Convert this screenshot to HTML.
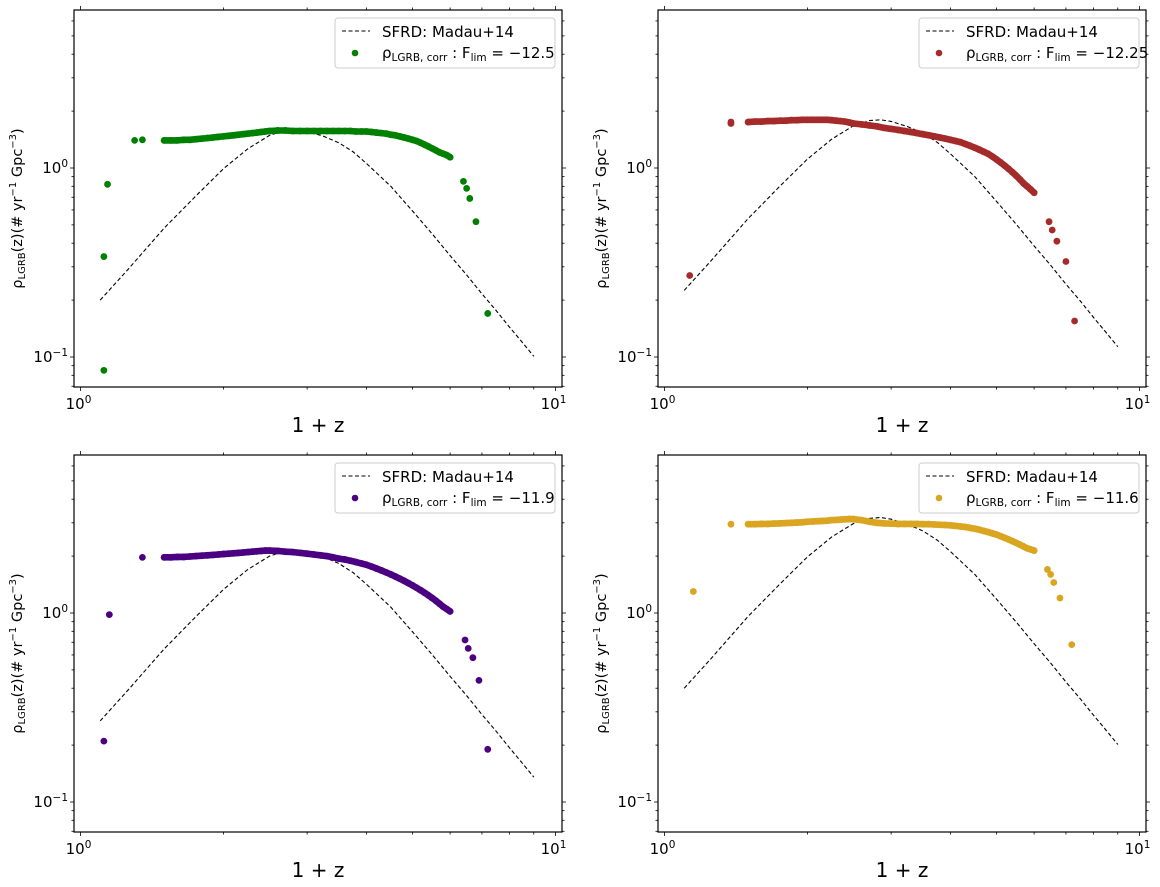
<!DOCTYPE html>
<html><head><meta charset="utf-8"><style>
html,body{margin:0;padding:0;background:#fff;}
svg{display:block;font-family:"DejaVu Sans","Liberation Sans",sans-serif;}
</style></head><body>
<svg id="fig" width="1160" height="887" viewBox="0 0 1160 887" xmlns="http://www.w3.org/2000/svg"></svg>
<script>
// ---- data ----
const sfrdX = [1.1,1.25,1.5,1.75,2.0,2.25,2.5,2.7,2.85,3.0,3.25,3.5,3.75,4.0,4.5,5.0,5.5,6.0,6.5,7.0,7.5,8.0,8.5,9.0];
const sfrdShape = [0.125,0.178,0.30,0.445,0.62,0.79,0.93,0.99,1.0,0.98,0.92,0.85,0.76,0.66,0.50,0.37,0.28,0.215,0.17,0.135,0.11,0.09,0.075,0.063];
const sfrdPeaks = [1.6,1.8,2.15,3.2];
const denseX = [1.50,1.55,1.60,1.65,1.70,1.75,1.80,1.85,1.90,1.95,2.00,2.05,2.10,2.15,2.20,2.25,2.30,2.35,2.40,2.45,2.50,
 2.6,2.7,2.8,2.9,3.0,3.1,3.2,3.3,3.4,3.5,3.6,3.7,3.8,3.9,4.0,4.1,4.2,4.3,4.4,4.5,4.6,4.7,4.8,4.9,5.0,5.1,5.2,5.3,5.4,5.5,5.6,5.7,5.8,5.9,6.0];
const yTL = [1.40,1.40,1.40,1.41,1.41,1.42,1.43,1.44,1.45,1.46,1.47,1.48,1.49,1.50,1.51,1.52,1.53,1.54,1.55,1.56,1.57,
 1.58,1.58,1.57,1.57,1.57,1.57,1.57,1.57,1.57,1.57,1.57,1.57,1.56,1.56,1.56,1.55,1.54,1.53,1.52,1.50,1.49,1.47,1.45,1.43,1.41,1.39,1.36,1.33,1.30,1.27,1.24,1.21,1.19,1.17,1.14];
const yTR = [1.75,1.76,1.76,1.77,1.77,1.78,1.78,1.79,1.79,1.80,1.80,1.80,1.80,1.80,1.80,1.79,1.78,1.77,1.76,1.74,1.72,
 1.70,1.68,1.66,1.63,1.61,1.59,1.57,1.55,1.53,1.51,1.49,1.47,1.45,1.43,1.41,1.39,1.37,1.34,1.31,1.28,1.25,1.22,1.19,1.15,1.11,1.07,1.03,0.99,0.95,0.91,0.87,0.83,0.80,0.77,0.74];
const yBL = [1.97,1.97,1.98,1.98,1.99,2.00,2.01,2.02,2.03,2.04,2.05,2.06,2.07,2.08,2.09,2.10,2.11,2.12,2.13,2.14,2.14,
 2.13,2.11,2.10,2.08,2.06,2.04,2.02,2.00,1.97,1.94,1.92,1.89,1.86,1.83,1.80,1.76,1.72,1.68,1.64,1.60,1.56,1.52,1.48,1.44,1.40,1.36,1.32,1.28,1.24,1.20,1.16,1.12,1.08,1.05,1.02];
const yBR = [2.95,2.95,2.96,2.96,2.97,2.98,2.99,3.00,3.01,3.02,3.04,3.05,3.06,3.07,3.08,3.10,3.11,3.12,3.13,3.14,3.14,
 3.10,3.04,3.00,2.98,2.97,2.96,2.96,2.96,2.96,2.95,2.95,2.94,2.93,2.92,2.91,2.89,2.87,2.85,2.82,2.79,2.76,2.72,2.68,2.64,2.60,2.55,2.50,2.45,2.40,2.35,2.30,2.25,2.20,2.17,2.14];
const outTLx = [1.12,1.12,1.14,1.30,1.35,6.4,6.5,6.6,6.8,7.2];
const outTLy = [0.085,0.34,0.82,1.40,1.41,0.85,0.78,0.69,0.52,0.17];
const outTRx = [1.13,1.38,1.38,6.45,6.55,6.7,7.0,7.3];
const outTRy = [0.27,1.75,1.72,0.52,0.47,0.41,0.32,0.155];
const outBLx = [1.12,1.15,1.35,6.45,6.55,6.7,6.9,7.2];
const outBLy = [0.21,0.98,1.97,0.72,0.65,0.58,0.44,0.19];
const outBRx = [1.15,1.38,6.4,6.5,6.6,6.8,7.2];
const outBRy = [1.3,2.95,1.7,1.6,1.45,1.2,0.68];
const flimLabels = ["\u221212.5","\u221212.25","\u221211.9","\u221211.6"];
const colors = ["#008000","#a52a2a","#4b0082","#daa520"];

const NS="http://www.w3.org/2000/svg";
const svg=document.getElementById('fig');
function mk(tag,attrs,parent){const e=document.createElementNS(NS,tag);for(const k in attrs)e.setAttribute(k,attrs[k]);(parent||svg).appendChild(e);return e;}

const panels=[
 {x:74,y:10,dense:yTL,ox:outTLx,oy:outTLy},
 {x:658,y:10,dense:yTR,ox:outTRx,oy:outTRy},
 {x:74,y:455,dense:yBL,ox:outBLx,oy:outBLy},
 {x:658,y:455,dense:yBR,ox:outBRx,oy:outBRy}];
const W=488,H=377;

panels.forEach((p,i)=>{
 const g=mk('g',{});
 
 
 const X=v=>p.x+6.5+475*Math.log10(v);
 const Y=v=>p.y+158-189*Math.log10(v);
 const fr=mk('rect',{x:p.x,y:p.y,width:W,height:H,fill:'none',stroke:'#000','stroke-width':1.2},g);
 
 
 for(let d=0;d<=1;d++){for(let m=1;m<=9;m++){const v=m*Math.pow(10,d);if(v>10)break;const xx=X(v);if(xx<p.x||xx>p.x+W)continue;
  const L=(m===1)?4:2.5;
  mk('line',{x1:xx,y1:p.y+H,x2:xx,y2:p.y+H+L,stroke:'#000','stroke-width':0.8},g);
  mk('line',{x1:xx,y1:p.y,x2:xx,y2:p.y-L,stroke:'#000','stroke-width':0.8},g);}}
 for(let d=-2;d<=0;d++){for(let m=1;m<=9;m++){const v=m*Math.pow(10,d);const yy=Y(v);if(yy<p.y||yy>p.y+H)continue;
  const L=(m===1)?4:2.5;
  mk('line',{x1:p.x,y1:yy,x2:p.x-L,y2:yy,stroke:'#000','stroke-width':0.8},g);
  mk('line',{x1:p.x+W,y1:yy,x2:p.x+W+L,y2:yy,stroke:'#000','stroke-width':0.8},g);}}
 [[1,'0'],[10,'1']].forEach(([v,e])=>{const t=mk('text',{x:X(v)-2,y:p.y+H+22,'font-size':15,'text-anchor':'middle'},g);
  
  t.innerHTML='10<tspan dy="-6" font-size="10.5">'+e+'</tspan>';});
 [[1,'0'],[0.1,'\u22121']].forEach(([v,e])=>{const t=mk('text',{x:p.x-6,y:Y(v)+5,'font-size':15,'text-anchor':'end'},g);
  
  t.innerHTML='10<tspan dy="-6" font-size="10.5">'+e+'</tspan>';});
 const xt=mk('text',{x:p.x+W/2,y:p.y+H+45,'font-size':20,'text-anchor':'middle'},g);
 
 xt.textContent='1 + z';
 const cy=p.y+H/2+10;
 const yt=mk('text',{x:0,y:0,'font-size':14.5,'text-anchor':'middle',transform:`translate(${p.x-52},${cy}) rotate(-90)`},g);
 
 yt.innerHTML='\u03c1<tspan dy="3" font-size="10">LGRB</tspan><tspan dy="-3">(z)(# yr</tspan><tspan dy="-6" font-size="10">\u22121</tspan><tspan dy="6"> Gpc</tspan><tspan dy="-6" font-size="10">\u22123</tspan><tspan dy="6">)</tspan>';
 const pk=sfrdPeaks[i];
 const pts=sfrdX.map((x,k)=>X(x).toFixed(1)+','+Y(sfrdShape[k]*pk).toFixed(1)).join(' ');
 const pl=mk('polyline',{points:pts,fill:'none',stroke:'#000','stroke-width':1.1,'stroke-dasharray':'4,2.5','stroke-linejoin':'round'},g);
 
 const bpts=denseX.map((x,k)=>X(x).toFixed(1)+','+Y(p.dense[k]).toFixed(1)).join(' ');
 const band=mk('polyline',{points:bpts,fill:'none',stroke:colors[i],'stroke-width':6.6,'stroke-linecap':'round','stroke-linejoin':'round'},g);
 
 denseX.forEach((x,k)=>{const c=mk('circle',{cx:X(x),cy:Y(p.dense[k]),r:3.4,fill:colors[i]},g);
  });
 p.ox.forEach((x,k)=>{const c=mk('circle',{cx:X(x),cy:Y(p.oy[k]),r:3.4,fill:colors[i]},g);
  });
 const lx=p.x+W-227, ly=p.y+8;
 const lg=mk('g',{},g);
 
 mk('rect',{x:lx,y:ly,width:220,height:50,rx:3,fill:'#fff',stroke:'#ccc','stroke-width':1},lg);
 mk('line',{x1:lx+7,y1:ly+13,x2:lx+35,y2:ly+13,stroke:'#000','stroke-width':1.1,'stroke-dasharray':'4,2.5'},lg);
 const t1=mk('text',{x:lx+47,y:ly+19,'font-size':15},lg);
 
 t1.textContent='SFRD: Madau+14';
 mk('circle',{cx:lx+20,cy:ly+35,r:3.3,fill:colors[i]},lg);
 const t2=mk('text',{x:lx+47,y:ly+40,'font-size':15},lg);
 
 t2.innerHTML='\u03c1<tspan dy="3" font-size="10.5">LGRB, corr</tspan><tspan dy="-3"> : F</tspan><tspan dy="3" font-size="10.5">lim</tspan><tspan dy="-3"> = '+flimLabels[i]+'</tspan>';
});
</script>
</body></html>
